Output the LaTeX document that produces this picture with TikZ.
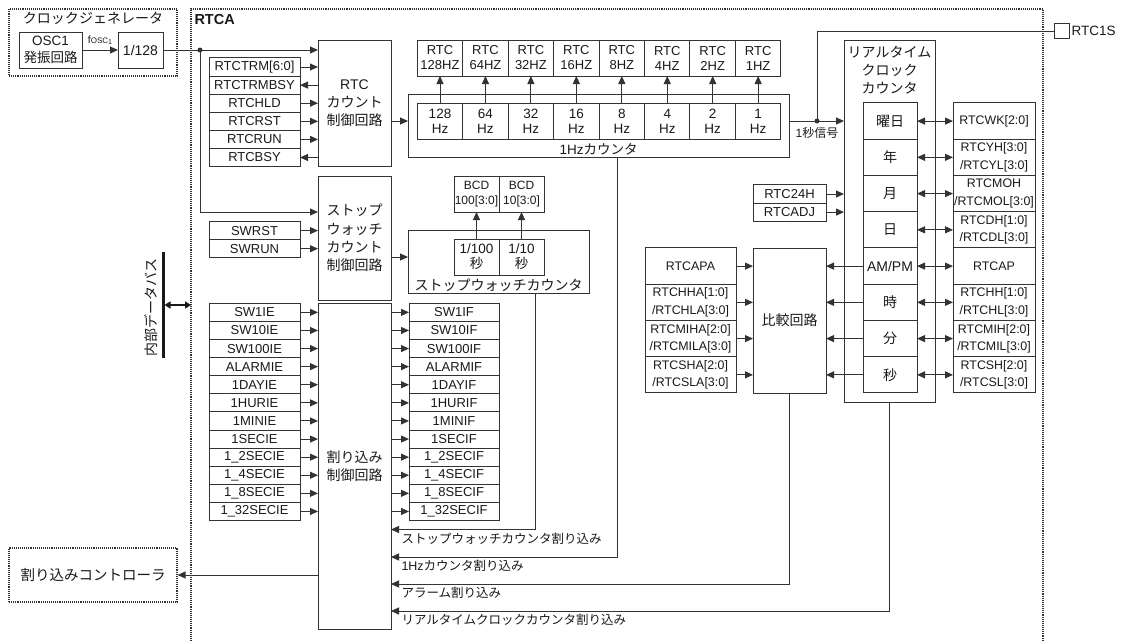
\documentclass[tikz,border=0pt]{standalone}
\usepackage{fontspec}
\setmainfont{Liberation Sans}
\newfontfamily\jpfont{Noto Sans CJK JP}
\newcommand{\jp}[1]{{\jpfont #1}}
\usepackage{xcolor}
\usetikzlibrary{arrows.meta, positioning, calc}
\definecolor{linegray}{gray}{0.2}
\definecolor{textgray}{gray}{0.1}

\begin{document}
\begin{tikzpicture}[
    x=1pt, y=-1pt, line width=1pt,
    every node/.style={color=textgray, font=\fontsize{13}{14}\selectfont},
    reg/.style={draw=linegray, rectangle, minimum height=18.1pt, minimum width=91pt,
                inner sep=0pt, outer sep=0pt, align=center},
    reg2/.style={reg, minimum height=36.25pt, font=\fontsize{12.4}{17.5}\selectfont},
    cell/.style={draw=linegray, rectangle, minimum height=36pt, minimum width=45.45pt,
                 inner sep=0pt, outer sep=0pt, align=center, font=\fontsize{13.5}{15}\selectfont},
    rcell/.style={cell, minimum width=54pt, minimum height=36.25pt, font=\fontsize{14}{15}\selectfont},
    blk/.style={draw=linegray, rectangle, inner sep=0pt, outer sep=0pt, align=center,
                font=\fontsize{14}{18.2}\selectfont},
    outer/.style={draw=linegray, rectangle, inner sep=0pt, outer sep=0pt},
    frame/.style={draw=linegray, line width=1.1pt, densely dotted},
    annot/.style={font=\fontsize{12.5}{15}\selectfont, inner sep=1pt},
    arrow/.style={-{Triangle[length=8pt, width=7pt]}, draw=linegray},
    both/.style={{Triangle[length=8pt, width=7pt]}-{Triangle[length=8pt, width=7pt]}, draw=linegray},
    wire/.style={draw=linegray},
    dot/.style={circle, fill=linegray, inner sep=0pt, minimum size=5pt}
]
\useasboundingbox (0,0) rectangle (1132,640);

% =========================================================
% CLOCK GENERATOR (outside RTCA)
% =========================================================
\node[frame, minimum width=168pt, minimum height=67pt] (clkgen) at (93,42.5) {};
\node[font=\fontsize{14}{16}\selectfont] (clktitle) at (93,18.5) {\jp{クロックジェネレータ}};
\node[blk, minimum width=63pt, minimum height=36pt, font=\fontsize{13.5}{17}\selectfont]
    (osc) at (50.5,50) {OSC1\\\jp{発振回路}};
\node[blk, minimum width=45pt, minimum height=36pt] (div) at (140.5,50) {1/128};
\draw[arrow] (osc.east) -- (div.west);
\node[font=\fontsize{10.5}{12}\selectfont, inner sep=0pt] (fosc) at (100,40)
    {f{\fontsize{8}{9}\selectfont OSC}\raisebox{-1.5pt}{\fontsize{7}{8}\selectfont 1}};

% =========================================================
% RTCA frame
% =========================================================
\draw[frame] (191,660) -- (191,9) -- (1043,9) -- (1043,660);
\node[anchor=west, inner sep=0pt, font=\bfseries\fontsize{14.5}{16}\selectfont] (rtca) at (194,19.5) {RTCA};

% =========================================================
% RTC count control
% =========================================================
\node[blk, minimum width=73pt, minimum height=126pt] (rtcctl) at (354.5,103)
    {RTC\\\jp{カウント}\\\jp{制御回路}};

\node[reg] (trm) at (254.5,67) {RTCTRM[6:0]};
\node[reg, below=0pt of trm] (trmbsy) {RTCTRMBSY};
\node[reg, below=0pt of trmbsy] (hld) {RTCHLD};
\node[reg, below=0pt of hld] (rst) {RTCRST};
\node[reg, below=0pt of rst] (run) {RTCRUN};
\node[reg, below=0pt of run] (bsy) {RTCBSY};

% =========================================================
% 1Hz counter
% =========================================================
\node[outer, minimum width=381pt, minimum height=63pt] (onehz) at (598.5,125.5) {};
\node[cell] (h128) at (440,121) {128\\Hz};
\node[cell, right=0pt of h128] (h64) {64\\Hz};
\node[cell, right=0pt of h64] (h32) {32\\Hz};
\node[cell, right=0pt of h32] (h16) {16\\Hz};
\node[cell, right=0pt of h16] (h8) {8\\Hz};
\node[cell, right=0pt of h8] (h4) {4\\Hz};
\node[cell, right=0pt of h4] (h2) {2\\Hz};
\node[cell, right=0pt of h2] (h1) {1\\Hz};
\node[anchor=south, inner sep=1pt, font=\fontsize{13.5}{15}\selectfont] (onehzlbl) at (onehz.south)
    {1Hz\jp{カウンタ}};

% readout registers above the cells
\node[cell, above=27pt of h128, font=\fontsize{13}{15}\selectfont] (r128) {RTC\\128HZ};
\node[cell, right=0pt of r128, font=\fontsize{13}{15}\selectfont] (r64) {RTC\\64HZ};
\node[cell, right=0pt of r64, font=\fontsize{13}{15}\selectfont] (r32) {RTC\\32HZ};
\node[cell, right=0pt of r32, font=\fontsize{13}{15}\selectfont] (r16) {RTC\\16HZ};
\node[cell, right=0pt of r16, font=\fontsize{13}{15}\selectfont] (r8) {RTC\\8HZ};
\node[cell, right=0pt of r8, font=\fontsize{13}{15}\selectfont] (r4) {RTC\\4HZ};
\node[cell, right=0pt of r4, font=\fontsize{13}{15}\selectfont] (r2) {RTC\\2HZ};
\node[cell, right=0pt of r2, font=\fontsize{13}{15}\selectfont] (r1) {RTC\\1HZ};

% =========================================================
% Real-time clock counter
% =========================================================
\node[outer, minimum width=91pt, minimum height=362pt] (rtccnt) at (889.5,221) {};
\node[anchor=north, align=center, inner sep=0pt, font=\fontsize{14}{18}\selectfont]
    (rtccnttitle) at ([yshift=-6pt]rtccnt.north)
    {\jp{リアルタイム}\\\jp{クロック}\\\jp{カウンタ}};

\node[rcell] (wk) at (890,121.1) {\jp{曜日}};
\node[rcell, below=0pt of wk] (yr) {\jp{年}};
\node[rcell, below=0pt of yr] (mo) {\jp{月}};
\node[rcell, below=0pt of mo] (dy) {\jp{日}};
\node[rcell, below=0pt of dy] (ap) {AM/PM};
\node[rcell, below=0pt of ap] (hr) {\jp{時}};
\node[rcell, below=0pt of hr] (mi) {\jp{分}};
\node[rcell, below=0pt of mi] (se) {\jp{秒}};

\node[reg2, minimum width=82pt] (rwk) at (994,121.1) {RTCWK[2:0]};
\node[reg2, minimum width=82pt, below=0pt of rwk] (ryr) {RTCYH[3:0]\\/RTCYL[3:0]};
\node[reg2, minimum width=82pt, below=0pt of ryr] (rmo) {RTCMOH\\/RTCMOL[3:0]};
\node[reg2, minimum width=82pt, below=0pt of rmo] (rdy) {RTCDH[1:0]\\/RTCDL[3:0]};
\node[reg2, minimum width=82pt, below=0pt of rdy] (rap) {RTCAP};
\node[reg2, minimum width=82pt, below=0pt of rap] (rhr) {RTCHH[1:0]\\/RTCHL[3:0]};
\node[reg2, minimum width=82pt, below=0pt of rhr] (rmi) {RTCMIH[2:0]\\/RTCMIL[3:0]};
\node[reg2, minimum width=82pt, below=0pt of rmi] (rse) {RTCSH[2:0]\\/RTCSL[3:0]};

\node[reg, minimum width=73pt] (h24) at (789.5,194) {RTC24H};
\node[reg, minimum width=73pt, below=0pt of h24] (adj) {RTCADJ};

% Alarm compare
\node[blk, minimum width=73pt, minimum height=145pt] (cmp) at (789.5,320.6) {\jp{比較回路}};
\node[reg2] (apa) at (690.5,266.1) {RTCAPA};
\node[reg2, below=0pt of apa] (hha) {RTCHHA[1:0]\\/RTCHLA[3:0]};
\node[reg2, below=0pt of hha] (miha) {RTCMIHA[2:0]\\/RTCMILA[3:0]};
\node[reg2, below=0pt of miha] (sha) {RTCSHA[2:0]\\/RTCSLA[3:0]};

% 1 second output pin
\node[outer, minimum size=15pt] (rtc1s) at (1061.5,31) {};
\node[anchor=west, inner sep=2pt, font=\fontsize{13.5}{15}\selectfont] (rtc1slbl) at (rtc1s.east) {RTC1S};
\node[dot] (sec) at (817,121) {};
\node[annot, font=\fontsize{12}{14}\selectfont] (seclbl) at (817,133) {1\jp{秒信号}};

% =========================================================
% Stopwatch
% =========================================================
\node[blk, minimum width=73pt, minimum height=124pt] (swctl) at (354.5,238)
    {\jp{ストップ}\\\jp{ウォッチ}\\\jp{カウント}\\\jp{制御回路}};
\node[reg] (swrst) at (254.5,230.6) {SWRST};
\node[reg, below=0pt of swrst] (swrun) {SWRUN};

\node[outer, minimum width=181pt, minimum height=63pt] (swcnt) at (498.5,261.5) {};
\node[cell, minimum width=45pt] (s100) at (476.5,257) {1/100\\\jp{秒}};
\node[cell, minimum width=45pt, right=0pt of s100] (s10) {1/10\\\jp{秒}};
\node[cell, minimum width=45pt, above=27pt of s100, font=\fontsize{12}{15}\selectfont] (b100) {BCD\\100[3:0]};
\node[cell, minimum width=45pt, right=0pt of b100, font=\fontsize{12}{15}\selectfont] (b10) {BCD\\10[3:0]};
\node[anchor=south, inner sep=1pt, font=\fontsize{14}{16}\selectfont] (swcntlbl) at (swcnt.south)
    {\jp{ストップウォッチカウンタ}};

% =========================================================
% Interrupt control
% =========================================================
\node[blk, minimum width=73pt, minimum height=326pt] (intctl) at (354.5,466)
    {\jp{割り込み}\\\jp{制御回路}};

\node[reg] (ie1) at (254.5,312.35) {SW1IE};
\node[reg, below=0pt of ie1] (ie10) {SW10IE};
\node[reg, below=0pt of ie10] (ie100) {SW100IE};
\node[reg, below=0pt of ie100] (ieal) {ALARMIE};
\node[reg, below=0pt of ieal] (ieday) {1DAYIE};
\node[reg, below=0pt of ieday] (iehur) {1HURIE};
\node[reg, below=0pt of iehur] (iemin) {1MINIE};
\node[reg, below=0pt of iemin] (iesec) {1SECIE};
\node[reg, below=0pt of iesec] (ie2) {1\_2SECIE};
\node[reg, below=0pt of ie2] (ie4) {1\_4SECIE};
\node[reg, below=0pt of ie4] (ie8) {1\_8SECIE};
\node[reg, below=0pt of ie8] (ie32) {1\_32SECIE};

\node[reg, minimum width=90pt] (if1) at (454,312.35) {SW1IF};
\node[reg, minimum width=90pt, below=0pt of if1] (if10) {SW10IF};
\node[reg, minimum width=90pt, below=0pt of if10] (if100) {SW100IF};
\node[reg, minimum width=90pt, below=0pt of if100] (ifal) {ALARMIF};
\node[reg, minimum width=90pt, below=0pt of ifal] (ifday) {1DAYIF};
\node[reg, minimum width=90pt, below=0pt of ifday] (ifhur) {1HURIF};
\node[reg, minimum width=90pt, below=0pt of ifhur] (ifmin) {1MINIF};
\node[reg, minimum width=90pt, below=0pt of ifmin] (ifsec) {1SECIF};
\node[reg, minimum width=90pt, below=0pt of ifsec] (if2) {1\_2SECIF};
\node[reg, minimum width=90pt, below=0pt of if2] (if4) {1\_4SECIF};
\node[reg, minimum width=90pt, below=0pt of if4] (if8) {1\_8SECIF};
\node[reg, minimum width=90pt, below=0pt of if8] (if32) {1\_32SECIF};

% interrupt request lines end on the control block
\coordinate (irqsw) at (391,529.5);
\coordinate (irqhz) at (391,557);
\coordinate (irqal) at (391,584);
\coordinate (irqrtc) at (391,611);

\node[frame, minimum width=168pt, minimum height=54pt, font=\fontsize{14.5}{16}\selectfont]
    (intc) at (93,575) {\jp{割り込みコントローラ}};

% Internal data bus
\coordinate (bustop) at (163,252);
\coordinate (busbot) at (163,358);
\coordinate (busmid) at (163,305);
\coordinate (busport) at (191,305);
\node[rotate=90, font=\fontsize{14}{16}\selectfont] (buslbl) at (151,307) {\jp{内部データバス}};

% =========================================================
% ARROWS
% =========================================================
% clock into RTC and stopwatch control
\draw[arrow] (div.east) -- (div.east -| rtcctl.west);
\node[dot] (split) at (200,50) {};
\draw[arrow] (split.center) |- ([yshift=26pt]swctl.west);

% RTC control registers
\foreach \r in {trm,hld,rst,run}
    \draw[arrow] (\r.east) -- (\r.east -| rtcctl.west);
\foreach \r in {trmbsy,bsy}
    \draw[arrow] (\r.east -| rtcctl.west) -- (\r.east);

% control -> 1Hz counter -> readouts
\draw[arrow] (rtcctl.east |- h128.center) -- (onehz.west |- h128.center);
\foreach \f in {128,64,32,16,8,4,2,1}
    \draw[arrow] (h\f.north) -- (r\f.south);

% 1 second signal
\draw[wire] (onehz.east |- h1.center) -- (sec.center);
\draw[arrow] (sec.center) -- (sec.center -| rtccnt.west);
\draw[wire] (sec.center) |- (rtc1s.west);

% counter <-> registers
\foreach \c/\r in {wk/rwk,yr/ryr,mo/rmo,dy/rdy,ap/rap,hr/rhr,mi/rmi,se/rse}
    \draw[both] (\c.east) -- (\r.west);
\foreach \r in {h24,adj}
    \draw[arrow] (\r.east) -- (\r.east -| rtccnt.west);

% alarm compare inputs
\foreach \a in {apa,hha,miha,sha}
    \draw[arrow] (\a.east) -- (\a.east -| cmp.west);
\foreach \c in {ap,hr,mi,se}
    \draw[arrow] (\c.west) -- (\c.west -| cmp.east);

% stopwatch
\foreach \r in {swrst,swrun}
    \draw[arrow] (\r.east) -- (\r.east -| swctl.west);
\draw[arrow] (swctl.east |- s100.center) -- (swcnt.west |- s100.center);
\draw[arrow] (s100.north) -- (b100.south);
\draw[arrow] (s10.north) -- (b10.south);

% interrupt enables / flags
\foreach \n in {1,10,100,al,day,hur,min,sec,2,4,8,32} {
    \draw[arrow] (ie\n.east) -- (ie\n.east -| intctl.west);
    \draw[arrow] (if\n.west -| intctl.east) -- (if\n.west);
}

% interrupt sources
\draw[arrow] ([xshift=36.5pt]swcnt.south) |- (irqsw);
\draw[arrow] ([xshift=18.5pt]onehz.south) |- (irqhz);
\draw[arrow] (cmp.south) |- (irqal);
\draw[arrow] (rtccnt.south) |- (irqrtc);
\node[annot, anchor=north west] at ([xshift=9pt, yshift=-2pt]irqsw) {\jp{ストップウォッチカウンタ割り込み}};
\node[annot, anchor=north west] at ([xshift=9pt, yshift=-2pt]irqhz) {1Hz\jp{カウンタ割り込み}};
\node[annot, anchor=north west] at ([xshift=9pt, yshift=-2pt]irqal) {\jp{アラーム割り込み}};
\node[annot, anchor=north west] at ([xshift=9pt, yshift=-2pt]irqrtc) {\jp{リアルタイムクロックカウンタ割り込み}};

\draw[arrow] (intctl.west |- intc.east) -- (intc.east);

% data bus
\draw[line width=3pt, draw=textgray] (bustop) -- (busbot);
\draw[{Triangle[length=6pt, width=7pt]}-{Triangle[length=6pt, width=7pt]}, line width=2pt, draw=textgray]
    ([xshift=1.5pt]busmid) -- (busport);

\end{tikzpicture}
\end{document}
